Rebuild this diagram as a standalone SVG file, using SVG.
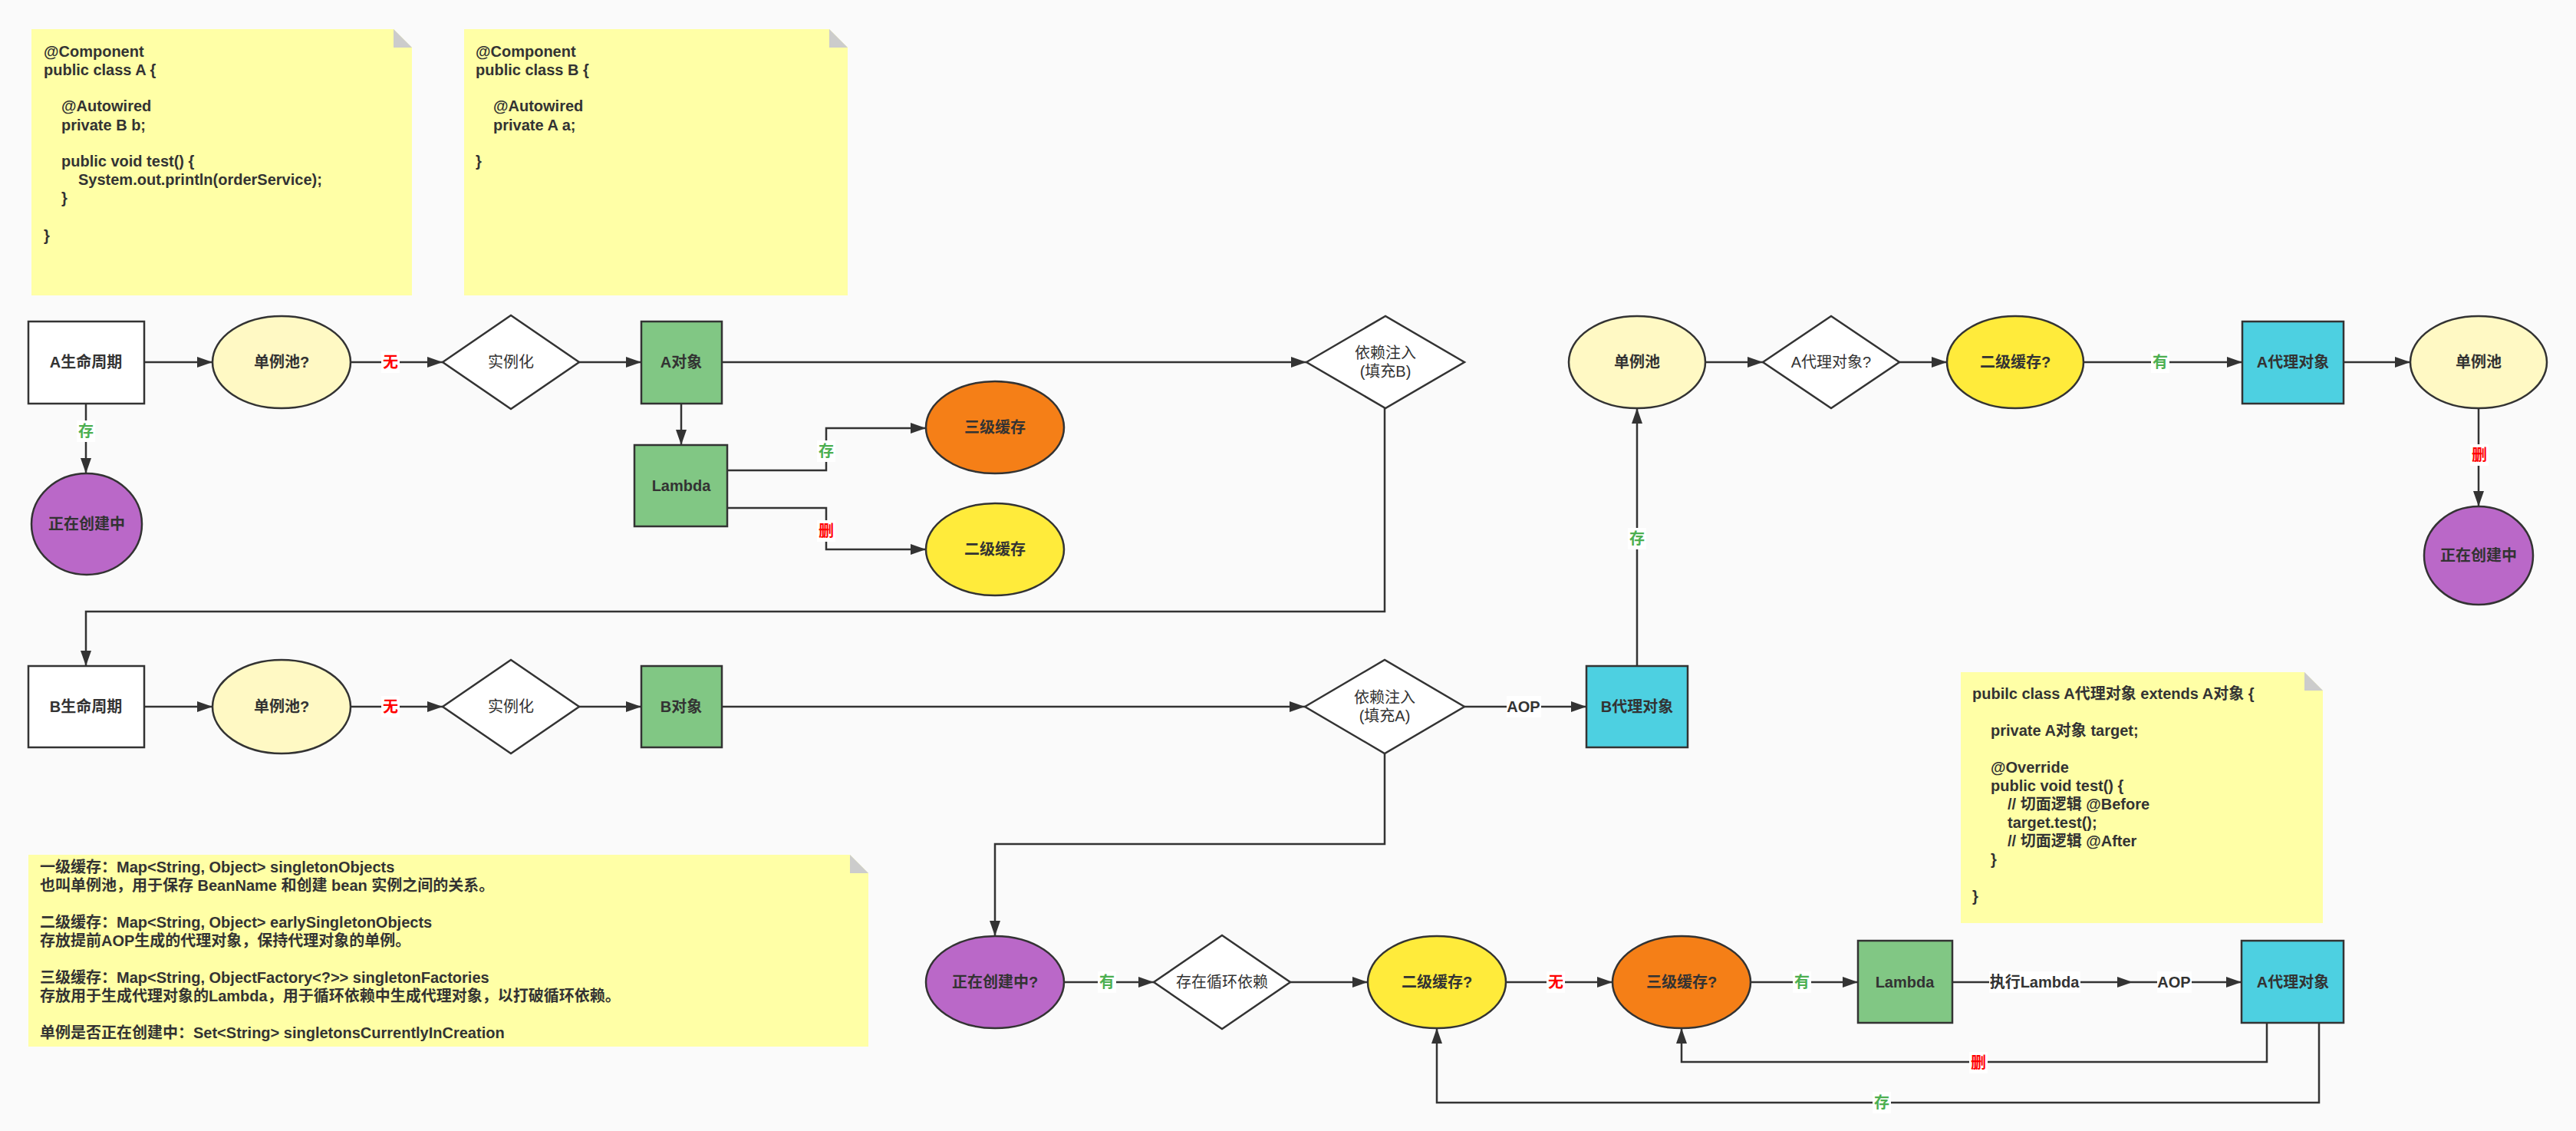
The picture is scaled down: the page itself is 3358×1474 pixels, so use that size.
<svg xmlns="http://www.w3.org/2000/svg" width="3358" height="1474" viewBox="0 0 3358 1474">
<style>
.t{font-family:"Liberation Sans","Noto Sans CJK SC",sans-serif;font-size:20px;fill:#333333}
.b{font-weight:bold}
.c{text-anchor:middle}
.red{fill:#FF0000;font-weight:bold}
.grn{fill:#4CAF50;font-weight:bold}
.sh{stroke:#333333;stroke-width:2.5}
.note{fill:#FFFFA6}
.fold{fill:#CCCCCC}
.ln{fill:none;stroke:#333333;stroke-width:2.5}
.lb{fill:#FFFFFF}
</style>
<defs>
<marker id="arr" markerWidth="20" markerHeight="14" refX="20" refY="7" orient="auto" markerUnits="userSpaceOnUse">
<path d="M0,0 L20,7 L0,14 Z" fill="#333333"/>
</marker>
</defs>
<rect x="0" y="0" width="3358" height="1474" fill="#FAFAFA"/>

<g id="connectors">
<path class="ln" marker-end="url(#arr)" d="M188,472 H277"/>
<path class="ln" marker-end="url(#arr)" d="M457,472 H577"/>
<path class="ln" marker-end="url(#arr)" d="M755,472 H836"/>
<path class="ln" marker-end="url(#arr)" d="M112,526 V617"/>
<path class="ln" marker-end="url(#arr)" d="M888,526 V580"/>
<path class="ln" marker-end="url(#arr)" d="M941,472 H1703"/>
<path class="ln" marker-end="url(#arr)" d="M948,613 H1077 V558 H1207"/>
<path class="ln" marker-end="url(#arr)" d="M948,662 H1077 V716 H1207"/>
<path class="ln" marker-end="url(#arr)" d="M1805,532 V797 H112 V868"/>
<path class="ln" marker-end="url(#arr)" d="M188,921 H277"/>
<path class="ln" marker-end="url(#arr)" d="M457,921 H577"/>
<path class="ln" marker-end="url(#arr)" d="M755,921 H836"/>
<path class="ln" marker-end="url(#arr)" d="M941,921 H1701"/>
<path class="ln" marker-end="url(#arr)" d="M1909,921 H2068"/>
<path class="ln" marker-end="url(#arr)" d="M2134,868 V532"/>
<path class="ln" marker-end="url(#arr)" d="M2223,472 H2298"/>
<path class="ln" marker-end="url(#arr)" d="M2476,472 H2538"/>
<path class="ln" marker-end="url(#arr)" d="M2716,472 H2923"/>
<path class="ln" marker-end="url(#arr)" d="M3055,472 H3142"/>
<path class="ln" marker-end="url(#arr)" d="M3231,532 V660"/>
<path class="ln" marker-end="url(#arr)" d="M1805,982 V1100 H1297 V1220"/>
<path class="ln" marker-end="url(#arr)" d="M1387,1280 H1504"/>
<path class="ln" marker-end="url(#arr)" d="M1682,1280 H1783"/>
<path class="ln" marker-end="url(#arr)" d="M1963,1280 H2102"/>
<path class="ln" marker-end="url(#arr)" d="M2282,1280 H2422"/>
<path class="ln" marker-end="url(#arr)" d="M2545,1280 H2780"/>
<path class="ln" marker-end="url(#arr)" d="M2780,1280 H2922"/>
<path class="ln" marker-end="url(#arr)" d="M2955,1333 V1384 H2192 V1340"/>
<path class="ln" marker-end="url(#arr)" d="M3023,1333 V1437 H1873 V1340"/>
<g id="edge-labels">
<rect class="lb" x="100" y="548" width="24" height="28"/><text class="t grn c" x="112" y="569">存</text>
<rect class="lb" x="497" y="458" width="24" height="28"/><text class="t red c" x="509" y="479">无</text>
<rect class="lb" x="1065" y="574" width="24" height="28"/><text class="t grn c" x="1077" y="595">存</text>
<rect class="lb" x="1065" y="678" width="24" height="28"/><text class="t red c" x="1077" y="699">删</text>
<rect class="lb" x="2122" y="688" width="24" height="28"/><text class="t grn c" x="2134" y="709">存</text>
<rect class="lb" x="2804" y="458" width="24" height="28"/><text class="t grn c" x="2816" y="479">有</text>
<rect class="lb" x="3220" y="579" width="24" height="28"/><text class="t red c" x="3232" y="600">删</text>
<rect class="lb" x="497" y="907" width="24" height="28"/><text class="t red c" x="509" y="928">无</text>
<rect class="lb" x="1964" y="907" width="45" height="28"/><text class="t b c" x="1986" y="928">AOP</text>
<rect class="lb" x="1431" y="1266" width="24" height="28"/><text class="t grn c" x="1443" y="1287">有</text>
<rect class="lb" x="2016" y="1266" width="24" height="28"/><text class="t red c" x="2028" y="1287">无</text>
<rect class="lb" x="2337" y="1266" width="24" height="28"/><text class="t grn c" x="2349" y="1287">有</text>
<rect class="lb" x="2593" y="1266" width="119" height="28"/><text class="t b c" x="2652" y="1287">执行Lambda</text>
<rect class="lb" x="2812" y="1266" width="45" height="28"/><text class="t b c" x="2834" y="1287">AOP</text>
<rect class="lb" x="2567" y="1371" width="24" height="28"/><text class="t red c" x="2579" y="1392">删</text>
<rect class="lb" x="2441" y="1423" width="24" height="28"/><text class="t grn c" x="2453" y="1444">存</text>
</g>
</g>

<g id="note-classA">
<path class="note" d="M41,38 H513 L537,62 V385 H41 Z"/>
<path class="fold" d="M513,38 V62 H537 Z"/>
<text class="t b" x="57" y="74">@Component</text>
<text class="t b" x="57" y="98">public class A {</text>
<text class="t b" x="80" y="145">@Autowired</text>
<text class="t b" x="80" y="170">private B b;</text>
<text class="t b" x="80" y="217">public void test() {</text>
<text class="t b" x="102" y="241">System.out.println(orderService);</text>
<text class="t b" x="80" y="265">}</text>
<text class="t b" x="57" y="314">}</text>
</g>
<g id="note-classB">
<path class="note" d="M605,38 H1081 L1105,62 V385 H605 Z"/>
<path class="fold" d="M1081,38 V62 H1105 Z"/>
<text class="t b" x="620" y="74">@Component</text>
<text class="t b" x="620" y="98">public class B {</text>
<text class="t b" x="643" y="145">@Autowired</text>
<text class="t b" x="643" y="170">private A a;</text>
<text class="t b" x="620" y="217">}</text>
</g>

<g id="a-lifecycle"><rect class="sh" x="37" y="419" width="151" height="107" fill="#FFFFFF"/><text class="t b c" x="112" y="479">A生命周期</text></g>
<g id="a-pool-check"><ellipse class="sh" cx="367" cy="472" rx="90" ry="60" fill="#FFF9C4"/><text class="t b c" x="367" y="479">单例池?</text></g>
<g id="a-instantiate"><path class="sh" d="M577,472 L666,411 L755,472 L666,533 Z" fill="#FFFFFF"/><text class="t c" x="666" y="479">实例化</text></g>
<g id="a-object"><rect class="sh" x="836" y="419" width="105" height="107" fill="#81C784"/><text class="t b c" x="888" y="479">A对象</text></g>
<g id="a-lambda"><rect class="sh" x="827" y="580" width="121" height="106" fill="#81C784"/><text class="t b c" x="888" y="640">Lambda</text></g>
<g id="a-creating"><ellipse class="sh" cx="113" cy="683" rx="72" ry="66" fill="#BA68C8"/><text class="t b c" x="113" y="690">正在创建中</text></g>
<g id="a-level3"><ellipse class="sh" cx="1297" cy="557" rx="90" ry="60" fill="#F57F17"/><text class="t b c" x="1297" y="564">三级缓存</text></g>
<g id="a-level2"><ellipse class="sh" cx="1297" cy="716" rx="90" ry="60" fill="#FFEB3B"/><text class="t b c" x="1297" y="723">二级缓存</text></g>
<g id="a-inject"><path class="sh" d="M1703,472 L1806,412 L1909,472 L1806,532 Z" fill="#FFFFFF"/><text class="t c" x="1806" y="467">依赖注入</text><text class="t c" x="1806" y="491">(填充B)</text></g>
<g id="pool-1"><ellipse class="sh" cx="2134" cy="472" rx="89" ry="60" fill="#FFF9C4"/><text class="t b c" x="2134" y="479">单例池</text></g>
<g id="proxy-check"><path class="sh" d="M2298,472 L2387,412 L2476,472 L2387,532 Z" fill="#FFFFFF"/><text class="t c" x="2387" y="479">A代理对象?</text></g>
<g id="level2-check-top"><ellipse class="sh" cx="2627" cy="472" rx="89" ry="60" fill="#FFEB3B"/><text class="t b c" x="2627" y="479">二级缓存?</text></g>
<g id="a-proxy-top"><rect class="sh" x="2923" y="419" width="132" height="107" fill="#4DD0E1"/><text class="t b c" x="2989" y="479">A代理对象</text></g>
<g id="pool-2"><ellipse class="sh" cx="3231" cy="472" rx="89" ry="60" fill="#FFF9C4"/><text class="t b c" x="3231" y="479">单例池</text></g>
<g id="creating-right"><ellipse class="sh" cx="3231" cy="724" rx="71" ry="64" fill="#BA68C8"/><text class="t b c" x="3231" y="731">正在创建中</text></g>

<g id="b-lifecycle"><rect class="sh" x="37" y="868" width="151" height="106" fill="#FFFFFF"/><text class="t b c" x="112" y="928">B生命周期</text></g>
<g id="b-pool-check"><ellipse class="sh" cx="367" cy="921" rx="90" ry="61" fill="#FFF9C4"/><text class="t b c" x="367" y="928">单例池?</text></g>
<g id="b-instantiate"><path class="sh" d="M577,921 L666,860 L755,921 L666,982 Z" fill="#FFFFFF"/><text class="t c" x="666" y="928">实例化</text></g>
<g id="b-object"><rect class="sh" x="836" y="868" width="105" height="106" fill="#81C784"/><text class="t b c" x="888" y="928">B对象</text></g>
<g id="b-inject"><path class="sh" d="M1701,921 L1805,860 L1909,921 L1805,982 Z" fill="#FFFFFF"/><text class="t c" x="1805" y="916">依赖注入</text><text class="t c" x="1805" y="940">(填充A)</text></g>
<g id="b-proxy"><rect class="sh" x="2068" y="868" width="132" height="106" fill="#4DD0E1"/><text class="t b c" x="2134" y="928">B代理对象</text></g>

<g id="note-proxy">
<path class="note" d="M2556,876 H3004 L3028,900 V1203 H2556 Z"/>
<path class="fold" d="M3004,876 V900 H3028 Z"/>
<text class="t b" x="2571" y="911">pubilc class A代理对象 extends A对象 {</text>
<text class="t b" x="2595" y="959">private A对象 target;</text>
<text class="t b" x="2595" y="1007">@Override</text>
<text class="t b" x="2595" y="1031">public void test() {</text>
<text class="t b" x="2617" y="1055">// 切面逻辑 @Before</text>
<text class="t b" x="2617" y="1079">target.test();</text>
<text class="t b" x="2617" y="1103">// 切面逻辑 @After</text>
<text class="t b" x="2595" y="1127">}</text>
<text class="t b" x="2571" y="1175">}</text>
</g>
<g id="note-caches">
<path class="note" d="M37,1114 H1108 L1132,1138 V1364 H37 Z"/>
<path class="fold" d="M1108,1114 V1138 H1132 Z"/>
<text class="t b" x="52" y="1137">一级缓存：Map&lt;String, Object&gt; singletonObjects</text>
<text class="t b" x="52" y="1161">也叫单例池，用于保存 BeanName 和创建 bean 实例之间的关系。</text>
<text class="t b" x="52" y="1209">二级缓存：Map&lt;String, Object&gt; earlySingletonObjects</text>
<text class="t b" x="52" y="1233">存放提前AOP生成的代理对象，保持代理对象的单例。</text>
<text class="t b" x="52" y="1281">三级缓存：Map&lt;String, ObjectFactory&lt;?&gt;&gt; singletonFactories</text>
<text class="t b" x="52" y="1305">存放用于生成代理对象的Lambda，用于循环依赖中生成代理对象，以打破循环依赖。</text>
<text class="t b" x="52" y="1353">单例是否正在创建中：Set&lt;String&gt; singletonsCurrentlyInCreation</text>
</g>

<g id="creating-check"><ellipse class="sh" cx="1297" cy="1280" rx="90" ry="60" fill="#BA68C8"/><text class="t b c" x="1297" y="1287">正在创建中?</text></g>
<g id="cycle-check"><path class="sh" d="M1504,1280 L1593,1219 L1682,1280 L1593,1341 Z" fill="#FFFFFF"/><text class="t c" x="1593" y="1287">存在循环依赖</text></g>
<g id="level2-check"><ellipse class="sh" cx="1873" cy="1280" rx="90" ry="60" fill="#FFEB3B"/><text class="t b c" x="1873" y="1287">二级缓存?</text></g>
<g id="level3-check"><ellipse class="sh" cx="2192" cy="1280" rx="90" ry="60" fill="#F57F17"/><text class="t b c" x="2192" y="1287">三级缓存?</text></g>
<g id="lambda-bottom"><rect class="sh" x="2422" y="1226" width="123" height="107" fill="#81C784"/><text class="t b c" x="2483" y="1287">Lambda</text></g>
<g id="a-proxy-bottom"><rect class="sh" x="2922" y="1226" width="133" height="107" fill="#4DD0E1"/><text class="t b c" x="2989" y="1287">A代理对象</text></g>
</svg>
